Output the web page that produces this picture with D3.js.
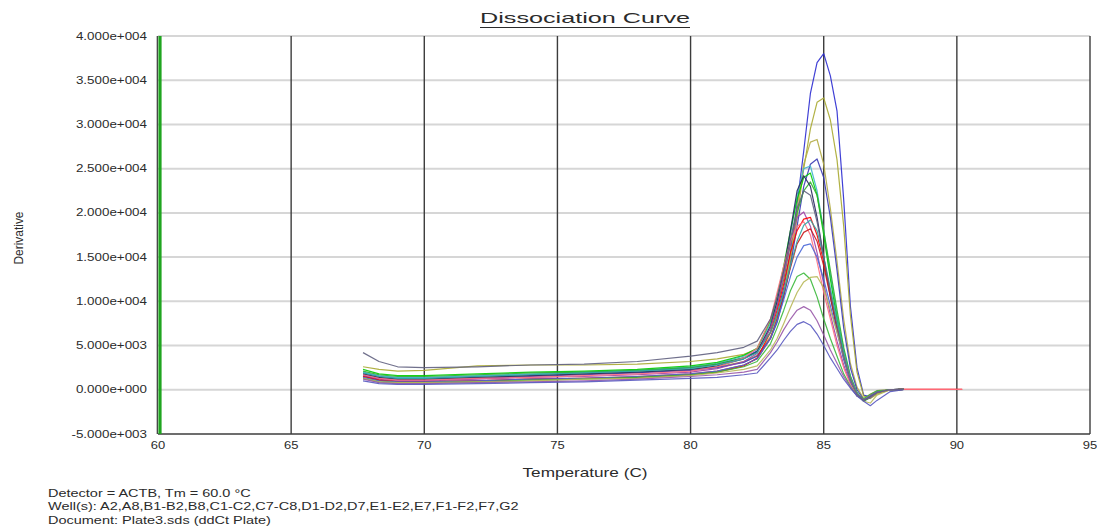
<!DOCTYPE html>
<html>
<head>
<meta charset="utf-8">
<script src="https://cdn.jsdelivr.net/npm/d3@7"></script>
<style>
    body { margin: 0; background: #ffffff; }
    text { font-family: "Liberation Sans", Arial, sans-serif; fill: #2b2b2b; }
</style>
</head>
<body>
<div id="dissociation"></div>
<script>

// temperature points shared by all wells
var temps = [67.7, 68.3, 69, 70, 72, 74, 76, 78, 80, 81, 82, 82.5,
    83, 83.25, 83.5, 83.75, 84, 84.25, 84.5, 84.75, 85, 85.25, 85.5, 85.75,
    86, 86.25, 86.5, 86.75, 87, 87.5, 88, 89, 90.2];

var xTicks = [60, 65, 70, 75, 80, 85, 90, 95];
var yTicks = [-5000, 0, 5000, 10000, 15000, 20000, 25000, 30000, 35000, 40000];

var wells = ["A2", "A8", "B1", "B2", "B8", "C1", "C2", "C7", "C8", "D1",
    "D2", "D7", "E1", "E2", "E7", "F1", "F2", "F7", "G2"];

var wellColors = ["#2b2bd0", "#a8a830", "#b4ac44", "#3838b4", "#40b4cc", "#00cc00", "#30b030",
    "#282860", "#a040a8", "#ff0000", "#ff7080", "#c81818", "#30a8a8", "#4a68d8",
    "#38b838", "#b8b858", "#9858a8", "#5858c0", "#606080"];

// derivative values per well
var wA2 = [1900,1500,1300,1300,1500,1700,1900,2100,2500,2900,3600,4400,6500,8500,11500,15500,21000,27000,33500,37000,38000,35500,31500,21500,9500,2500,-600,-800,-400,0,100,null,null];
var wA8 = [2600,2300,2100,2200,2700,2800,2800,2900,3200,3500,4000,4600,6500,8300,11000,14500,19500,25000,29500,32500,33000,30500,26000,18500,8500,2000,-700,-1000,-500,0,100,null,null];
var wB1 = [1800,1400,1200,1200,1400,1600,1800,2000,2300,2600,3200,3900,6000,8000,11000,15000,20500,25500,28000,28300,25500,20500,14500,8000,3000,300,-1000,-900,-400,0,100,null,null];
var wB2 = [1700,1300,1100,1100,1300,1500,1700,1900,2200,2500,3100,3800,5800,7600,10500,14000,18500,23000,25500,26100,24000,19500,13500,7000,2500,0,-1100,-800,-300,0,100,null,null];
var wB8 = [2000,1600,1400,1400,1600,1800,2000,2200,2600,3000,3800,4600,7500,10000,13500,17500,22000,25000,25300,22500,18000,13000,8500,4500,1500,-400,-1100,-700,-200,0,50,null,null];
var wC1 = [2300,1800,1600,1600,1800,2000,2100,2300,2700,3100,3900,4700,7800,10500,14000,18000,21500,24000,24500,22000,17500,12500,8000,4000,1200,-600,-1200,-800,-200,0,50,null,null];
var wC2 = [2100,1700,1500,1500,1700,1900,2000,2200,2500,2900,3600,4300,7000,9500,12500,16500,20000,22500,23500,22000,18000,13500,9000,4800,1600,-300,-1300,-900,-300,0,50,null,null];
var wC7 = [1800,1400,1200,1200,1400,1600,1800,2000,2300,2700,3500,4300,7200,10000,13500,18000,22500,24200,23000,19500,15000,10500,6800,3500,1000,-600,-1200,-700,-200,0,50,null,null];
var wC8 = [1600,1200,1000,1000,1200,1400,1500,1700,2000,2400,3200,4100,7000,9500,13000,16500,19500,20100,18500,15500,12000,8500,5500,2800,800,-600,-1100,-600,-200,0,50,null,null];
var wD1 = [1500,1100,900,900,1000,1200,1300,1400,1700,2000,2700,3600,6500,9000,12000,15500,18000,19300,19500,17500,14500,11000,7000,3800,1200,-500,-1100,-700,-200,0,50,50,50];
var wD2 = [1700,1300,1100,1100,1300,1400,1600,1800,2100,2600,3600,4700,8000,11000,14000,16800,18500,19000,17500,14500,11000,8000,5000,2500,600,-700,-1100,-500,-100,0,50,50,50];
var wD7 = [1500,1100,900,900,1000,1200,1300,1500,1800,2100,2800,3500,5800,8000,10800,13800,16500,17800,18200,16800,14000,10500,7000,3800,1200,-500,-1200,-800,-300,0,50,null,null];
var wE1 = [1900,1500,1300,1300,1500,1700,1900,2100,2400,2800,3500,4200,6500,8600,11000,14000,16800,18600,19200,18000,15000,11500,7800,4200,1400,-400,-1200,-800,-300,0,50,null,null];
var wE2 = [1400,1000,900,900,1000,1200,1300,1500,1800,2100,2800,3500,5800,7800,10200,12800,15000,16300,16500,15000,12500,9500,6500,3500,1000,-500,-1100,-700,-200,0,50,null,null];
var wE7 = [1300,900,800,800,900,1100,1200,1400,1700,2000,2600,3200,5200,7000,9000,11200,12800,13200,12500,10500,8000,5800,3800,1800,400,-700,-1000,-500,-100,0,50,null,null];
var wF1 = [1300,900,800,800,900,1000,1200,1300,1600,1900,2300,2700,4500,5800,7500,9300,11000,12200,12700,12800,11500,9000,6500,3800,1200,-500,-1300,-1500,-600,0,50,null,null];
var wF2 = [1200,800,700,700,800,900,1000,1200,1500,1700,2000,2300,4200,5400,6800,8000,9000,9400,9000,7800,6200,4500,3000,1500,300,-700,-1100,-900,-300,0,50,null,null];
var wF7 = [1000,700,600,600,700,800,900,1100,1300,1400,1700,1900,3600,4500,5600,6600,7400,7700,7300,6300,5000,3600,2400,1200,200,-700,-1300,-1800,-1200,-200,0,null,null];
var wG2 = [4200,3200,2600,2500,2600,2800,2900,3200,3800,4200,4800,5500,8000,10500,13500,17000,20500,22500,22000,19000,15000,11000,7200,3800,1200,-500,-1200,-800,-300,0,50,null,null];

var wellValues = [wA2, wA8, wB1, wB2, wB8, wC1, wC2, wC7, wC8, wD1,
    wD2, wD7, wE1, wE2, wE7, wF1, wF2, wF7, wG2];

var detectorText = "Detector = ACTB, Tm = 60.0 \u00B0C";
var wellsText = "Well(s): A2,A8,B1-B2,B8,C1-C2,C7-C8,D1-D2,D7,E1-E2,E7,F1-F2,F7,G2";
var documentText = "Document: Plate3.sds (ddCt Plate)";


/**
 * Constructor for the dissociation curve chart
 */
function DissociationChart(){
    var self = this;
    self.init();
};

/**
 * Sets up the svg and scales
 */
DissociationChart.prototype.init = function(){
    var self = this;
    self.svgWidth = 1097;
    self.svgHeight = 530;
    self.plot = {left: 158, right: 1090, top: 36, bottom: 434};

    self.svg = d3.select("#dissociation").append("svg")
        .attr("width", self.svgWidth)
        .attr("height", self.svgHeight);

    self.xScale = d3.scaleLinear()
        .domain([60, 95])
        .range([self.plot.left, self.plot.right]);

    self.yScale = d3.scaleLinear()
        .domain([-5000, 40000])
        .range([self.plot.bottom, self.plot.top]);
};

/**
 * Formats a tick value like the SDS software does, e.g. 3.500e+004
 */
DissociationChart.prototype.sciFormat = function(v){
    if (v === 0){
        return "0.000e+000";
    }
    var e = Math.floor(Math.log10(Math.abs(v)));
    var m = v / Math.pow(10, e);
    return m.toFixed(3) + "e+" + ("000" + e).slice(-3);
};

/**
 * Draws grid, curves and all the texts
 */
DissociationChart.prototype.update = function(){
    var self = this;
    var svg = self.svg;
    var x = self.xScale, y = self.yScale;

    //horizontal grid lines
    svg.append("g").selectAll("line")
        .data(yTicks.filter(function(d){ return d > -5000; }))
        .enter().append("line")
        .attr("x1", self.plot.left)
        .attr("x2", self.plot.right)
        .attr("y1", function(d){ return y(d); })
        .attr("y2", function(d){ return y(d); })
        .attr("stroke", "#d6d6d6")
        .attr("stroke-width", 2);

    //vertical grid lines
    svg.append("g").selectAll("line")
        .data(xTicks.filter(function(d){ return d > 60; }))
        .enter().append("line")
        .attr("x1", function(d){ return x(d); })
        .attr("x2", function(d){ return x(d); })
        .attr("y1", self.plot.top)
        .attr("y2", self.plot.bottom)
        .attr("stroke", "#3c3c3c")
        .attr("stroke-width", 1.4);

    //bottom border
    svg.append("line")
        .attr("x1", self.plot.left).attr("x2", self.plot.right)
        .attr("y1", self.plot.bottom).attr("y2", self.plot.bottom)
        .attr("stroke", "#3c3c3c")
        .attr("stroke-width", 1.4);

    //left edge, the dark axis and the green marker line at 60
    svg.append("line")
        .attr("x1", x(60) - 0.7).attr("x2", x(60) - 0.7)
        .attr("y1", self.plot.top).attr("y2", self.plot.bottom)
        .attr("stroke", "#333333")
        .attr("stroke-width", 1.2);
    svg.append("line")
        .attr("x1", x(60) + 2).attr("x2", x(60) + 2)
        .attr("y1", self.plot.top).attr("y2", self.plot.bottom)
        .attr("stroke", "#1fa51f")
        .attr("stroke-width", 3.2);

    //curves
    var line = d3.line()
        .defined(function(d){ return d !== null; })
        .x(function(d, i){ return x(temps[i]); })
        .y(function(d){ return y(d); });

    svg.append("g").selectAll("path")
        .data(wellValues)
        .enter().append("path")
        .attr("d", line)
        .attr("fill", "none")
        .attr("stroke", function(d, i){ return wellColors[i]; })
        .attr("stroke-width", 1.2)
        .attr("stroke-linejoin", "round")
        .attr("opacity", 0.9);

    //y tick labels
    svg.append("g").selectAll("text")
        .data(yTicks)
        .enter().append("text")
        .attr("transform", function(d){ return "translate(147," + (y(d) + 3.6) + ") scale(1.34,1)"; })
        .attr("text-anchor", "end")
        .style("font-size", "10px")
        .text(function(d){ return self.sciFormat(d); });

    //x tick labels
    svg.append("g").selectAll("text")
        .data(xTicks)
        .enter().append("text")
        .attr("transform", function(d){ return "translate(" + x(d) + ",449) scale(1.3,1)"; })
        .attr("text-anchor", "middle")
        .style("font-size", "10px")
        .text(function(d){ return d; });

    //title with underline
    svg.append("text")
        .attr("x", 585)
        .attr("y", 23)
        .attr("text-anchor", "middle")
        .attr("textLength", 210)
        .attr("lengthAdjust", "spacingAndGlyphs")
        .style("font-size", "15px")
        .text("Dissociation Curve");
    svg.append("line")
        .attr("x1", 480).attr("x2", 690)
        .attr("y1", 27.5).attr("y2", 27.5)
        .attr("stroke", "#2b2b2b")
        .attr("stroke-width", 1.2);

    //axis titles
    svg.append("text")
        .attr("x", 585)
        .attr("y", 477)
        .attr("text-anchor", "middle")
        .attr("textLength", 125)
        .attr("lengthAdjust", "spacingAndGlyphs")
        .style("font-size", "13.5px")
        .text("Temperature (C)");

    svg.append("text")
        .attr("transform", "translate(23,238) rotate(-90)")
        .attr("text-anchor", "middle")
        .attr("textLength", 53)
        .attr("lengthAdjust", "spacingAndGlyphs")
        .style("font-size", "13px")
        .text("Derivative");

    //run info below the chart
    var info = svg.append("g")
        .attr("transform", "translate(48,0) scale(1.45,1)");
    info.selectAll("text")
        .data([detectorText, wellsText, documentText])
        .enter().append("text")
        .attr("x", 0)
        .attr("y", function(d, i){ return [497, 510.5, 524][i]; })
        .style("font-size", "10px")
        .text(function(d){ return d; });
};

var chart = new DissociationChart();
chart.update();

</script>
</body>
</html>
